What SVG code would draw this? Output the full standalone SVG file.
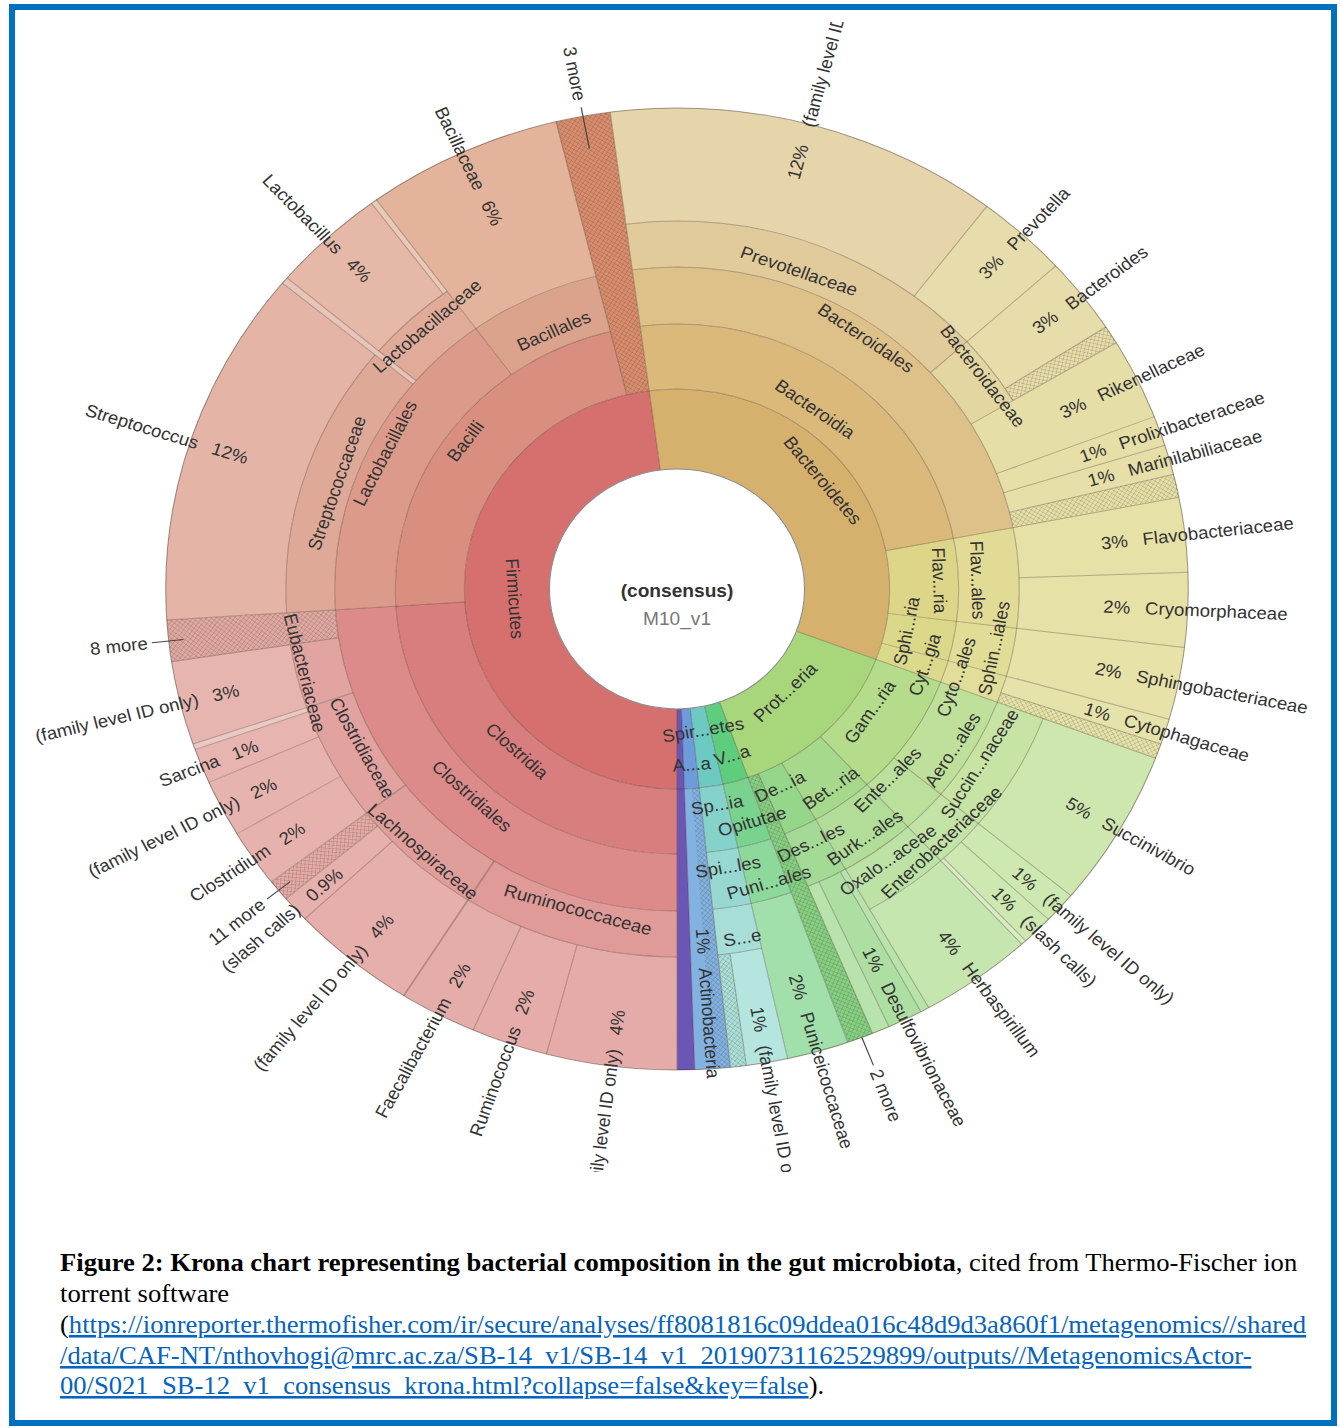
<svg xmlns="http://www.w3.org/2000/svg" width="1340" height="1427" viewBox="0 0 1340 1427">
<defs>
<style>
.a{fill:none}
.k1{stroke-width:80px}.k2{stroke-width:65px}.k3{stroke-width:57px}.k4{stroke-width:46px}.k5{stroke-width:113px}.k45{stroke-width:159px}.k25{stroke-width:281px}.k15{stroke-width:361px}
.h{stroke:url(#hatch)}
.b{fill:none;stroke:#3a2818;stroke-opacity:.33;stroke-width:1px}
.ld{stroke:#444;stroke-width:1.1px}
.t{font-family:"Liberation Sans",Arial,sans-serif;font-size:17.5px;fill:#333}
.m{text-anchor:middle}
.e{text-anchor:end}
.cap{font-family:"Liberation Serif","Times New Roman",serif;font-size:26px;fill:#000}
.lnk{fill:#0563c1;text-decoration:underline}
</style>
<pattern id="hatch" width="5" height="5" patternUnits="userSpaceOnUse"><path d="M0,0L5,5M5,0L0,5" stroke="#3a2a1a" stroke-opacity="0.28" stroke-width="0.7" fill="none"/></pattern>
<clipPath id="clip"><rect x="16" y="22" width="1312" height="1150"/></clipPath>
</defs>
<rect width="1340" height="1427" fill="#fff"/>
<g clip-path="url(#clip)">
<g id="chart" transform="translate(677,589) scale(1.063,1)">
<g id="nodes">
<!-- Firmicutes -->
<circle id="firmicutes" class="a k1" r="160" stroke="#d6706f" pathLength="360" stroke-dasharray="172.5 360" transform="rotate(90)"/>
<circle id="clostridia" class="a k2" r="232.5" stroke="#d97e7f" pathLength="360" stroke-dasharray="86.3 360" transform="rotate(90)"/>
<circle id="clostridiales" class="a k3" r="293.5" stroke="#dc8a8a" pathLength="360" stroke-dasharray="86.3 360" transform="rotate(90)"/>
<circle id="ruminococcaceae" class="a k4" r="345" stroke="#e09b99" pathLength="360" stroke-dasharray="32.3 360" transform="rotate(90)"/>
<circle id="rum-family" class="a k5" r="424.5" stroke="#e5aba8" pathLength="360" stroke-dasharray="14.8 360" transform="rotate(90)"/>
<circle id="ruminococcus" class="a k5" r="424.5" stroke="#e5aca9" pathLength="360" stroke-dasharray="8.7 360" transform="rotate(104.8)"/>
<circle id="faecalibacterium" class="a k5" r="424.5" stroke="#e5ada9" pathLength="360" stroke-dasharray="8.8 360" transform="rotate(113.5)"/>
<circle id="lachnospiraceae" class="a k4" r="345" stroke="#e09e9b" pathLength="360" stroke-dasharray="20.2 360" transform="rotate(122.3)"/>
<circle id="lach-family" class="a k5" r="424.5" stroke="#e6afab" pathLength="360" stroke-dasharray="14.4 360" transform="rotate(122.3)"/>
<circle id="lach-slash" class="a k5" r="424.5" stroke="#e6b0ac" pathLength="360" stroke-dasharray="3.2 360" transform="rotate(136.7)"/>
<circle id="lach-more" class="a k5" r="424.5" stroke="#e4aaa6" pathLength="360" stroke-dasharray="2.6 360" transform="rotate(139.9)"/>
<circle class="a k5 h" r="424.5" pathLength="360" stroke-dasharray="2.6 360" transform="rotate(139.9)"/>
<circle id="clostridiaceae" class="a k4" r="345" stroke="#e1a2a0" pathLength="360" stroke-dasharray="18.7 360" transform="rotate(142.5)"/>
<circle id="clostridium" class="a k5" r="424.5" stroke="#e7b2ae" pathLength="360" stroke-dasharray="6.9 360" transform="rotate(142.5)"/>
<circle id="clos-family" class="a k5" r="424.5" stroke="#e7b3af" pathLength="360" stroke-dasharray="6.9 360" transform="rotate(149.4)"/>
<circle id="sarcina" class="a k5" r="424.5" stroke="#e7b4b0" pathLength="360" stroke-dasharray="4.2 360" transform="rotate(156.3)"/>
<circle id="clos-tiny" class="a k5" r="424.5" stroke="#ecc9c5" pathLength="360" stroke-dasharray="0.7 360" transform="rotate(160.5)"/>
<circle id="eubacteriaceae" class="a k4" r="345" stroke="#e1a4a1" pathLength="360" stroke-dasharray="10.1 360" transform="rotate(161.2)"/>
<circle id="eub-family" class="a k5" r="424.5" stroke="#e7b5b0" pathLength="360" stroke-dasharray="10.1 360" transform="rotate(161.2)"/>
<circle id="clostridiales-more" class="a k45" r="401.5" stroke="#e0a9a2" pathLength="360" stroke-dasharray="5 360" transform="rotate(171.3)"/>
<circle class="a k45 h" r="401.5" pathLength="360" stroke-dasharray="5 360" transform="rotate(171.3)"/>
<circle id="bacilli" class="a k2" r="232.5" stroke="#d98f80" pathLength="360" stroke-dasharray="80 360" transform="rotate(176.3)"/>
<circle id="lactobacillales" class="a k3" r="293.5" stroke="#dc9b8a" pathLength="360" stroke-dasharray="57.7 360" transform="rotate(176.3)"/>
<circle id="streptococcaceae" class="a k4" r="345" stroke="#dfa998" pathLength="360" stroke-dasharray="43.2 360" transform="rotate(176.3)"/>
<circle id="streptococcus" class="a k5" r="424.5" stroke="#e4b5a7" pathLength="360" stroke-dasharray="43.2 360" transform="rotate(176.3)"/>
<circle id="lacto-tiny" class="a k45" r="401.5" stroke="#e9c5b9" pathLength="360" stroke-dasharray="0.8 360" transform="rotate(219.5)"/>
<circle id="lactobacillaceae" class="a k4" r="345" stroke="#e0ab98" pathLength="360" stroke-dasharray="13.7 360" transform="rotate(220.3)"/>
<circle id="lactobacillus" class="a k5" r="424.5" stroke="#e5b8a7" pathLength="360" stroke-dasharray="13 360" transform="rotate(220.3)"/>
<circle id="lacto-tiny2" class="a k5" r="424.5" stroke="#eac9b9" pathLength="360" stroke-dasharray="0.7 360" transform="rotate(233.3)"/>
<circle id="bacillales" class="a k3" r="293.5" stroke="#dca38c" pathLength="360" stroke-dasharray="22.3 360" transform="rotate(234)"/>
<circle id="bacillaceae" class="a k45" r="401.5" stroke="#e3b39c" pathLength="360" stroke-dasharray="22.3 360" transform="rotate(234)"/>
<circle id="firmicutes-more" class="a k25" r="340.5" stroke="#d98d6d" pathLength="360" stroke-dasharray="6.2 360" transform="rotate(256.3)"/>
<circle class="a k25 h" r="340.5" pathLength="360" stroke-dasharray="6.2 360" transform="rotate(256.3)"/>
<!-- Bacteroidetes -->
<circle id="bacteroidetes" class="a k1" r="160" stroke="#d6b16e" pathLength="360" stroke-dasharray="118.1 360" transform="rotate(262.5)"/>
<circle id="bacteroidia" class="a k2" r="232.5" stroke="#dab97b" pathLength="360" stroke-dasharray="86.5 360" transform="rotate(262.5)"/>
<circle id="bacteroidales" class="a k3" r="293.5" stroke="#dec189" pathLength="360" stroke-dasharray="86.5 360" transform="rotate(262.5)"/>
<circle id="prevotellaceae" class="a k4" r="345" stroke="#e2cb9b" pathLength="360" stroke-dasharray="55.3 360" transform="rotate(262.5)"/>
<circle id="prev-family" class="a k5" r="424.5" stroke="#e6d4ab" pathLength="360" stroke-dasharray="44.8 360" transform="rotate(262.5)"/>
<circle id="prevotella" class="a k5" r="424.5" stroke="#e7dcab" pathLength="360" stroke-dasharray="10.5 360" transform="rotate(-52.7)"/>
<circle id="bacteroidaceae" class="a k4" r="345" stroke="#e3d6a0" pathLength="360" stroke-dasharray="11.4 360" transform="rotate(-42.2)"/>
<circle id="bacteroides" class="a k5" r="424.5" stroke="#e7ddab" pathLength="360" stroke-dasharray="9.2 360" transform="rotate(-42.2)"/>
<circle id="bacteroidaceae-more" class="a k5" r="424.5" stroke="#e7ddab" pathLength="360" stroke-dasharray="2.2 360" transform="rotate(-33)"/>
<circle class="a k5 h" r="424.5" pathLength="360" stroke-dasharray="2.2 360" transform="rotate(-33)"/>
<circle id="rikenellaceae" class="a k45" r="401.5" stroke="#e6dea7" pathLength="360" stroke-dasharray="9.8 360" transform="rotate(-30.8)"/>
<circle id="prolixibacteraceae" class="a k45" r="401.5" stroke="#e6dfa7" pathLength="360" stroke-dasharray="3.6 360" transform="rotate(-21)"/>
<circle id="marinilabiliaceae" class="a k45" r="401.5" stroke="#e6dfa7" pathLength="360" stroke-dasharray="3.6 360" transform="rotate(-17.4)"/>
<circle id="bacteroidales-more" class="a k45" r="401.5" stroke="#e6e0a8" pathLength="360" stroke-dasharray="2.8 360" transform="rotate(-13.8)"/>
<circle class="a k45 h" r="401.5" pathLength="360" stroke-dasharray="2.8 360" transform="rotate(-13.8)"/>
<circle id="flavobacteriia" class="a k2" r="232.5" stroke="#ddd689" pathLength="360" stroke-dasharray="18 360" transform="rotate(-11)"/>
<circle id="flavobacteriales" class="a k3" r="293.5" stroke="#e1db95" pathLength="360" stroke-dasharray="18 360" transform="rotate(-11)"/>
<circle id="flavobacteriaceae" class="a k45" r="401.5" stroke="#e6e1a6" pathLength="360" stroke-dasharray="9 360" transform="rotate(-11)"/>
<circle id="cryomorphaceae" class="a k45" r="401.5" stroke="#e6e1a7" pathLength="360" stroke-dasharray="9 360" transform="rotate(-2)"/>
<circle id="sphingobacteriia" class="a k2" r="232.5" stroke="#dcd88a" pathLength="360" stroke-dasharray="8.7 360" transform="rotate(7)"/>
<circle id="sphingobacteriales" class="a k3" r="293.5" stroke="#e1dd96" pathLength="360" stroke-dasharray="8.7 360" transform="rotate(7)"/>
<circle id="sphingobacteriaceae" class="a k45" r="401.5" stroke="#e6e2a8" pathLength="360" stroke-dasharray="8.7 360" transform="rotate(7)"/>
<circle id="cytophagia" class="a k2" r="232.5" stroke="#dbda8c" pathLength="360" stroke-dasharray="4.9 360" transform="rotate(15.7)"/>
<circle id="cytophagales" class="a k3" r="293.5" stroke="#e0de98" pathLength="360" stroke-dasharray="4.9 360" transform="rotate(15.7)"/>
<circle id="cytophagaceae" class="a k45" r="401.5" stroke="#e6e3aa" pathLength="360" stroke-dasharray="3.1 360" transform="rotate(15.7)"/>
<circle id="cytophagales-more" class="a k45" r="401.5" stroke="#e6e3aa" pathLength="360" stroke-dasharray="1.8 360" transform="rotate(18.8)"/>
<circle class="a k45 h" r="401.5" pathLength="360" stroke-dasharray="1.8 360" transform="rotate(18.8)"/>
<!-- Proteobacteria -->
<circle id="proteobacteria" class="a k1" r="160" stroke="#a8d67b" pathLength="360" stroke-dasharray="49.9 360" transform="rotate(20.6)"/>
<circle id="gammaproteobacteria" class="a k2" r="232.5" stroke="#b5dc8b" pathLength="360" stroke-dasharray="27 360" transform="rotate(20.6)"/>
<circle id="aeromonadales" class="a k3" r="293.5" stroke="#bfe09a" pathLength="360" stroke-dasharray="19 360" transform="rotate(20.6)"/>
<circle id="succinivibrionaceae" class="a k4" r="345" stroke="#c7e4a5" pathLength="360" stroke-dasharray="19 360" transform="rotate(20.6)"/>
<circle id="succinivibrio" class="a k5" r="424.5" stroke="#cee7af" pathLength="360" stroke-dasharray="19 360" transform="rotate(20.6)"/>
<circle id="enterobacteriales" class="a k3" r="293.5" stroke="#bae09b" pathLength="360" stroke-dasharray="8 360" transform="rotate(39.6)"/>
<circle id="enterobacteriaceae" class="a k4" r="345" stroke="#c4e4a7" pathLength="360" stroke-dasharray="8 360" transform="rotate(39.6)"/>
<circle id="ent-family" class="a k5" r="424.5" stroke="#cde8b1" pathLength="360" stroke-dasharray="3.8 360" transform="rotate(39.6)"/>
<circle id="ent-slash" class="a k5" r="424.5" stroke="#cde8b1" pathLength="360" stroke-dasharray="3.6 360" transform="rotate(43.4)"/>
<circle id="ent-tiny" class="a k5" r="424.5" stroke="#d8edc4" pathLength="360" stroke-dasharray="0.6 360" transform="rotate(47)"/>
<circle id="betaproteobacteria" class="a k2" r="232.5" stroke="#a6d98b" pathLength="360" stroke-dasharray="12.9 360" transform="rotate(47.6)"/>
<circle id="burkholderiales" class="a k3" r="293.5" stroke="#b2dd98" pathLength="360" stroke-dasharray="12.9 360" transform="rotate(47.6)"/>
<circle id="oxalobacteraceae" class="a k4" r="345" stroke="#bde2a5" pathLength="360" stroke-dasharray="12.9 360" transform="rotate(47.6)"/>
<circle id="herbaspirillum" class="a k5" r="424.5" stroke="#c6e6b0" pathLength="360" stroke-dasharray="12.9 360" transform="rotate(47.6)"/>
<circle id="deltaproteobacteria" class="a k2" r="232.5" stroke="#94d68a" pathLength="360" stroke-dasharray="7 360" transform="rotate(60.5)"/>
<circle id="desulfovibrionales" class="a k3" r="293.5" stroke="#a2da96" pathLength="360" stroke-dasharray="7 360" transform="rotate(60.5)"/>
<circle id="delta-thin1" class="a k45" r="401.5" stroke="#b8e3ad" pathLength="360" stroke-dasharray="1 360" transform="rotate(60.5)"/>
<circle id="desulfovibrionaceae" class="a k45" r="401.5" stroke="#addea2" pathLength="360" stroke-dasharray="4 360" transform="rotate(61.5)"/>
<circle id="delta-thin2" class="a k45" r="401.5" stroke="#b8e3ad" pathLength="360" stroke-dasharray="2 360" transform="rotate(65.5)"/>
<circle id="proteobacteria-more" class="a k25" r="340.5" stroke="#86d083" pathLength="360" stroke-dasharray="3 360" transform="rotate(67.5)"/>
<circle class="a k25 h" r="340.5" pathLength="360" stroke-dasharray="3 360" transform="rotate(67.5)"/>
<!-- Verrucomicrobia -->
<circle id="verrucomicrobia" class="a k1" r="160" stroke="#5fcd7e" pathLength="360" stroke-dasharray="7 360" transform="rotate(70.5)"/>
<circle id="opitutae" class="a k2" r="232.5" stroke="#79d38f" pathLength="360" stroke-dasharray="7 360" transform="rotate(70.5)"/>
<circle id="puniceicoccales" class="a k3" r="293.5" stroke="#8dd99c" pathLength="360" stroke-dasharray="7 360" transform="rotate(70.5)"/>
<circle id="puniceicoccaceae" class="a k45" r="401.5" stroke="#a1dfab" pathLength="360" stroke-dasharray="7 360" transform="rotate(70.5)"/>
<!-- Spirochaetes -->
<circle id="spirochaetes" class="a k1" r="160" stroke="#6dcac3" pathLength="360" stroke-dasharray="6.5 360" transform="rotate(77.5)"/>
<circle id="spirochaetia" class="a k2" r="232.5" stroke="#85d2cb" pathLength="360" stroke-dasharray="6.5 360" transform="rotate(77.5)"/>
<circle id="spirochaetales" class="a k3" r="293.5" stroke="#97d9d2" pathLength="360" stroke-dasharray="6.5 360" transform="rotate(77.5)"/>
<circle id="spirochaetaceae" class="a k4" r="345" stroke="#a7dfd8" pathLength="360" stroke-dasharray="6.5 360" transform="rotate(77.5)"/>
<circle id="spiro-family" class="a k5" r="424.5" stroke="#b4e5de" pathLength="360" stroke-dasharray="4.7 360" transform="rotate(77.5)"/>
<circle id="spiro-more" class="a k5" r="424.5" stroke="#abe1da" pathLength="360" stroke-dasharray="1.8 360" transform="rotate(82.2)"/>
<circle class="a k5 h" r="424.5" pathLength="360" stroke-dasharray="1.8 360" transform="rotate(82.2)"/>
<!-- Actinobacteria and others -->
<circle id="actinobacteria" class="a k1" r="160" stroke="#6c9cd9" pathLength="360" stroke-dasharray="4 360" transform="rotate(84)"/>
<circle id="actinobacteria-class" class="a k25" r="340.5" stroke="#82b2e2" pathLength="360" stroke-dasharray="4 360" transform="rotate(84)"/>
<circle class="a k25 h" r="340.5" pathLength="360" stroke-dasharray="2 360" transform="rotate(84)"/>
<circle id="other-phyla" class="a k15" r="300.5" stroke="#6b55b5" pathLength="360" stroke-dasharray="2 360" transform="rotate(88)"/>
</g>
<g id="borders">
<circle class="b" r="200"/>
<circle class="b" r="265" pathLength="360" stroke-dasharray="166.3 6.2 165 3 13.5 6" transform="rotate(90)"/>
<circle class="b" r="322" pathLength="360" stroke-dasharray="166.3 6.2 165 3 13.5 6" transform="rotate(90)"/>
<circle class="b" r="368" pathLength="360" stroke-dasharray="81.3 5 43.2 0.8 13.7 28.5 66.7 51.4 39.9 17 6.5 6" transform="rotate(90)"/>
<circle class="b" r="481" style="stroke-opacity:.45"/>
<line class="b" y1="-120" y2="-481" transform="rotate(180)"/>
<line class="b" y1="-120" y2="-481" transform="rotate(352.5)"/>
<line class="b" y1="-120" y2="-481" transform="rotate(110.6)"/>
<line class="b" y1="-120" y2="-481" transform="rotate(160.5)"/>
<line class="b" y1="-120" y2="-481" transform="rotate(167.5)"/>
<line class="b" y1="-120" y2="-481" transform="rotate(174)"/>
<line class="b" y1="-120" y2="-481" transform="rotate(178)"/>
<line class="b" y1="-200" y2="-481" transform="rotate(266.3)"/>
<line class="b" y1="-200" y2="-481" transform="rotate(346.3)"/>
<line class="b" y1="-265" y2="-481" transform="rotate(324)"/>
<line class="b" y1="-322" y2="-481" transform="rotate(212.3)" style="stroke-width:1.6px"/>
<line class="b" y1="-368" y2="-481" transform="rotate(194.8)"/>
<line class="b" y1="-368" y2="-481" transform="rotate(203.5)"/>
<line class="b" y1="-368" y2="-481" transform="rotate(226.7)"/>
<line class="b" y1="-368" y2="-481" transform="rotate(229.9)"/>
<line class="b" y1="-322" y2="-481" transform="rotate(232.5)"/>
<line class="b" y1="-368" y2="-481" transform="rotate(239.4)"/>
<line class="b" y1="-368" y2="-481" transform="rotate(246.3)"/>
<line class="b" y1="-368" y2="-481" transform="rotate(250.5)"/>
<line class="b" y1="-322" y2="-481" transform="rotate(251.2)"/>
<line class="b" y1="-322" y2="-481" transform="rotate(261.3)"/>
<line class="b" y1="-322" y2="-481" transform="rotate(309.5)"/>
<line class="b" y1="-322" y2="-481" transform="rotate(310.3)"/>
<line class="b" y1="-368" y2="-481" transform="rotate(323.3)"/>
<line class="b" y1="-368" y2="-481" transform="rotate(37.3)"/>
<line class="b" y1="-322" y2="-481" transform="rotate(47.8)"/>
<line class="b" y1="-368" y2="-481" transform="rotate(57)"/>
<line class="b" y1="-322" y2="-481" transform="rotate(59.2)"/>
<line class="b" y1="-322" y2="-481" transform="rotate(69)"/>
<line class="b" y1="-322" y2="-481" transform="rotate(72.6)"/>
<line class="b" y1="-322" y2="-481" transform="rotate(76.2)"/>
<line class="b" y1="-200" y2="-481" transform="rotate(79)"/>
<line class="b" y1="-322" y2="-481" transform="rotate(88)"/>
<line class="b" y1="-200" y2="-481" transform="rotate(97)"/>
<line class="b" y1="-200" y2="-481" transform="rotate(105.7)"/>
<line class="b" y1="-322" y2="-481" transform="rotate(108.8)"/>
<line class="b" y1="-265" y2="-481" transform="rotate(129.6)"/>
<line class="b" y1="-368" y2="-481" transform="rotate(133.4)"/>
<line class="b" y1="-368" y2="-481" transform="rotate(137)"/>
<line class="b" y1="-200" y2="-481" transform="rotate(137.6)"/>
<line class="b" y1="-200" y2="-481" transform="rotate(150.5)"/>
<line class="b" y1="-322" y2="-481" transform="rotate(151.5)"/>
<line class="b" y1="-322" y2="-481" transform="rotate(155.5)"/>
<line class="b" y1="-200" y2="-481" transform="rotate(157.5)"/>
<line class="b" y1="-368" y2="-481" transform="rotate(172.2)"/>
</g>
<circle id="root" r="120" fill="#fff" stroke="#8a8a8a" stroke-width="1"/>
<g id="connectors">
<line class="ld" y1="-448" y2="-490" transform="rotate(349.4)"/>
<line class="ld" y1="-467" y2="-497" transform="rotate(263.8)"/>
<line class="ld" y1="-467" y2="-495" transform="rotate(231.2)"/>
<line class="ld" y1="-481" y2="-511" transform="rotate(158.8)"/>
</g>
<g id="labels" class="t">
<text class="m" y="8" style="font-weight:bold;font-size:18px">(consensus)</text>
<text class="m" y="36" style="fill:#777;font-size:18px">M10_v1</text>
<!-- tangential inner labels -->
<text class="m" dy="6" transform="rotate(86.4) translate(0,153)">Firmicutes</text>
<text class="m" dy="6" transform="rotate(42.9) translate(0,221)">Clostridia</text>
<text class="m" dy="6" transform="rotate(43) translate(0,283)">Clostridiales</text>
<text class="m" dy="6" transform="rotate(-53.4) translate(0,-248)">Bacilli</text>
<text class="m" dy="6" transform="rotate(-63.7) translate(0,-306.5)">Lactobacillales</text>
<text class="m" dy="6" transform="rotate(-71.7) translate(0,-337)">Streptococcaceae</text>
<text class="m" dy="6" transform="rotate(-41.8) translate(0,-352.7)">Lactobacillaceae</text>
<text class="m" dy="6" transform="rotate(-24.2) translate(0,-283)">Bacillales</text>
<text class="m" dy="6" transform="rotate(76.5) translate(0,360)">Eubacteriaceae</text>
<text class="m" dy="6" transform="rotate(61.8) translate(0,336)">Clostridiaceae</text>
<text class="m" dy="6" transform="rotate(42.3) translate(0,355)">Lachnospiraceae</text>
<text class="m" dy="6" transform="rotate(16.2) translate(0,334)">Ruminococcaceae</text>
<text class="m" dy="6" transform="rotate(51.6) translate(0,-175)">Bacteroidetes</text>
<text class="m" dy="6" transform="rotate(35.8) translate(0,-222)">Bacteroidia</text>
<text class="m" dy="6" transform="rotate(35.3) translate(0,-307.6)">Bacteroidales</text>
<text class="m" dy="6" transform="rotate(19.85) translate(0,-338)">Prevotellaceae</text>
<text class="m" dy="6" transform="rotate(53.5) translate(0,-358)">Bacteroidaceae</text>
<text class="m" dy="6" transform="rotate(88) translate(0,-247)">Flav...ria</text>
<text class="m" dy="6" transform="rotate(88.2) translate(0,-283)">Flav...ales</text>
<text class="m" dy="6" transform="rotate(-79) translate(0,220)">Sphi...ria</text>
<text class="m" dy="6" transform="rotate(-78.8) translate(0,304)">Sphin...iales</text>
<text class="m" dy="6" transform="rotate(-72) translate(0,245)">Cyt...gia</text>
<text class="m" dy="6" transform="rotate(-71.5) translate(0,277)">Cyto...ales</text>
<text class="m" dy="6" transform="rotate(-44.6) translate(0,145)">Prot...eria</text>
<text class="m" dy="6" transform="rotate(-9.9) translate(0,143)">Spir...etes</text>
<text class="m" dy="6" transform="rotate(-4.5) translate(0,176)">A...a</text>
<text class="m" dy="6" transform="rotate(-17.3) translate(0,174)">V...a</text>
<text class="m" dy="6" transform="rotate(-55.9) translate(0,219)">Gam...ria</text>
<text class="m" dy="6" transform="rotate(-36) translate(0,246)">Bet...ria</text>
<text class="m" dy="6" transform="rotate(-26.1) translate(0,220)">De...ia</text>
<text class="m" dy="6" transform="rotate(-16.9) translate(0,243)">Opitutae</text>
<text class="m" dy="6" transform="rotate(-9.9) translate(0,219)">Sp...ia</text>
<text class="m" dy="6" transform="rotate(-58.2) translate(0,305)">Aero...ales</text>
<text class="m" dy="6" transform="rotate(-46.1) translate(0,275)">Ente...ales</text>
<text class="m" dy="6" transform="rotate(-35.4) translate(0,305)">Burk...ales</text>
<text class="m" dy="6" transform="rotate(-26.4) translate(0,283)">Des...les</text>
<text class="m" dy="6" transform="rotate(-16.4) translate(0,306)">Puni...ales</text>
<text class="m" dy="6" transform="rotate(-9.8) translate(0,282)">Spi...les</text>
<text class="m" dy="6" transform="rotate(-58.5) translate(0,334)">Succin...naceae</text>
<text class="m" dy="6" transform="rotate(-44.5) translate(0,355)">Enterobacteriaceae</text>
<text class="m" dy="6" transform="rotate(-36.2) translate(0,336)">Oxalo...aceae</text>
<text class="m" dy="6" transform="rotate(-10) translate(0,354)">S...e</text>
<!-- right-side radial labels -->
<text transform="rotate(-75.1)" x="424.5" dy="6">12%<tspan dx="19">(family level ID only)</tspan></text>
<text transform="rotate(-47.45)" x="424.5" dy="6">3%<tspan dx="14">Prevotella</tspan></text>
<text transform="rotate(-37.6)" x="424.5" dy="6">3%<tspan dx="14">Bacteroides</tspan></text>
<text transform="rotate(-25.9)" x="401.5" dy="6">3%<tspan dx="14">Rikenellaceae</tspan></text>
<text transform="rotate(-19.2)" x="401.5" dy="6">1%<tspan dx="14">Prolixibacteraceae</tspan></text>
<text transform="rotate(-15.6)" x="401.5" dy="6">1%<tspan dx="14">Marinilabiliaceae</tspan></text>
<text transform="rotate(-6.5)" x="401.5" dy="6">3%<tspan dx="14">Flavobacteriaceae</tspan></text>
<text transform="rotate(2.5)" x="401.5" dy="6">2%<tspan dx="14">Cryomorphaceae</tspan></text>
<text transform="rotate(11.35)" x="401.5" dy="6">2%<tspan dx="14">Sphingobacteriaceae</tspan></text>
<text transform="rotate(17.25)" x="401.5" dy="6">1%<tspan dx="14">Cytophagaceae</tspan></text>
<text transform="rotate(30.1)" x="424.5" dy="6">5%<tspan dx="14">Succinivibrio</tspan></text>
<text transform="rotate(41.5)" x="424.5" dy="6">1%<tspan dx="14">(family level ID only)</tspan></text>
<text transform="rotate(45.2)" x="424.5" dy="6">1%<tspan dx="14">(slash calls)</tspan></text>
<text transform="rotate(54.05)" x="424.5" dy="6">4%<tspan dx="14">Herbaspirillum</tspan></text>
<text transform="rotate(63.5)" x="401.5" dy="6">1%<tspan dx="14">Desulfovibrionaceae</tspan></text>
<text transform="rotate(68.8)" x="516" dy="6">2 more</text>
<text transform="rotate(74)" x="401.5" dy="6">2%<tspan dx="14">Puniceicoccaceae</tspan></text>
<text transform="rotate(79.85)" x="424.5" dy="6">1%<tspan dx="14">(family level ID only)</tspan></text>
<text transform="rotate(86)" x="340.5" dy="6">1%<tspan dx="14">Actinobacteria</tspan></text>
<!-- left-side radial labels -->
<text class="e" transform="rotate(-82.6)" x="-424.5" dy="6">(family level ID only)<tspan dx="14">4%</tspan></text>
<text class="e" transform="rotate(-70.85)" x="-424.5" dy="6">Ruminococcus<tspan dx="14">2%</tspan></text>
<text class="e" transform="rotate(-62.1)" x="-424.5" dy="6">Faecalibacterium<tspan dx="14">2%</tspan></text>
<text class="e" transform="rotate(-50.5)" x="-424.5" dy="6">(family level ID only)<tspan dx="14">4%</tspan></text>
<text class="e" transform="rotate(-41.7)" x="-424.5" dy="6">(slash calls)<tspan dx="14">0.9%</tspan></text>
<text class="e" transform="rotate(-38.8)" x="-500" dy="6">11 more</text>
<text class="e" transform="rotate(-34.05)" x="-424.5" dy="6">Clostridium<tspan dx="14">2%</tspan></text>
<text class="e" transform="rotate(-27.15)" x="-424.5" dy="6">(family level ID only)<tspan dx="14">2%</tspan></text>
<text class="e" transform="rotate(-21.6)" x="-424.5" dy="6">Sarcina<tspan dx="14">1%</tspan></text>
<text class="e" transform="rotate(-13.75)" x="-424.5" dy="6">(family level ID only)<tspan dx="14">3%</tspan></text>
<text class="e" transform="rotate(-6.2)" x="-501" dy="6">8 more</text>
<text class="e" transform="rotate(17.9)" x="-424.5" dy="6">Streptococcus<tspan dx="14">12%</tspan></text>
<text class="e" transform="rotate(46.8)" x="-424.5" dy="6">Lactobacillus<tspan dx="14">4%</tspan></text>
<text class="e" transform="rotate(65.15)" x="-401.5" dy="6">Bacillaceae<tspan dx="14">6%</tspan></text>
<text class="e" transform="rotate(79.4)" x="-497" dy="6">3 more</text>
</g>
</g>
</g>
<g id="caption" class="cap" transform="scale(1.023,1)">
<text x="58.65" y="1271"><tspan font-weight="bold">Figure 2: Krona chart representing bacterial composition in the gut microbiota</tspan>, cited from Thermo-Fischer ion</text>
<text x="58.65" y="1302">torrent software</text>
<text x="58.65" y="1333">(<tspan class="lnk">https://ionreporter.thermofisher.com/ir/secure/analyses/ff8081816c09ddea016c48d9d3a860f1/metagenomics//shared</tspan></text>
<text x="58.65" y="1364" class="lnk">/data/CAF-NT/nthovhogi@mrc.ac.za/SB-14_v1/SB-14_v1_20190731162529899/outputs//MetagenomicsActor-</text>
<text x="58.65" y="1394"><tspan class="lnk">00/S021_SB-12_v1_consensus_krona.html?collapse=false&amp;key=false</tspan>).</text>
</g>
<rect id="frame" x="12" y="7" width="1322" height="1416" fill="none" stroke="#0070c0" stroke-width="6"/>
</svg>
